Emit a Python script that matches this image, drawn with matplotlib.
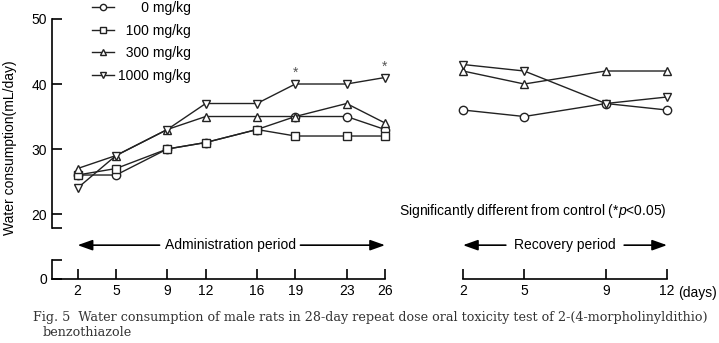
import matplotlib
matplotlib.use("Agg")
import matplotlib.pyplot as plt

plt.rcParams['font.family'] = ['Liberation Sans', 'DejaVu Sans']
plt.rcParams['mathtext.fontset'] = 'custom'
plt.rcParams['mathtext.it'] = 'Liberation Sans:italic'
plt.rcParams['mathtext.rm'] = 'Liberation Sans'

# data
admin_days = [2, 5, 9, 12, 16, 19, 23, 26]
admin_0 = [26, 26, 30, 31, 33, 35, 35, 33]
admin_100 = [26, 27, 30, 31, 33, 32, 32, 32]
admin_300 = [27, 29, 33, 35, 35, 35, 37, 34]
admin_1000 = [24, 29, 33, 37, 37, 40, 40, 41]
signif_days = [19, 26]

rec_days = [2, 5, 9, 12]
rec_0 = [36, 35, 37, 36]
rec_300 = [42, 40, 42, 42]
rec_1000 = [43, 42, 37, 38]

labels = ['      0 mg/kg', '  100 mg/kg', '  300 mg/kg', '1000 mg/kg']
markers = ['o', 's', '^', 'v']

W, H = 719, 343


def box(x0, y0, x1, y1):
    return [x0 / W, 1 - y1 / H, (x1 - x0) / W, (y1 - y0) / H]


fig = plt.figure(figsize=(W / 100, H / 100), dpi=100)
ax_a = fig.add_axes(box(52, 19, 385, 228))
ax_ab = fig.add_axes(box(52, 260, 385, 279))
ax_r = fig.add_axes(box(463, 19, 667, 228))
ax_rb = fig.add_axes(box(463, 260, 667, 279))

YLO, YHI = 17.85, 50
BOT_TOP = 2.92

line_kw = dict(color='#222222', lw=1.0, markersize=6, markerfacecolor='white',
               markeredgecolor='#222222', markeredgewidth=1.0, clip_on=False)

handles = []
for vals, m, lab in zip([admin_0, admin_100, admin_300, admin_1000], markers, labels):
    h, = ax_a.plot(admin_days, vals, marker=m, label=lab, **line_kw)
    handles.append(h)

for vals, m in zip([rec_0, rec_300, rec_1000], ['o', '^', 'v']):
    ax_r.plot(rec_days, vals, marker=m, **line_kw)

for d in signif_days:
    v = admin_1000[admin_days.index(d)]
    ax_a.annotate('*', (d, v), xytext=(0, 3), textcoords='offset points',
                  ha='center', va='bottom', fontsize=10, color='#555555')

# upper admin axes: y axis only
ax_a.set_xlim(0, 26)
ax_a.set_ylim(YLO, YHI)
for s in ['top', 'right', 'bottom']:
    ax_a.spines[s].set_visible(False)
ax_a.spines['left'].set_linewidth(1.2)
ax_a.set_xticks([])
ax_a.set_yticks([20, 30, 40, 50])
ax_a.set_yticks([YLO], minor=True)
ax_a.tick_params(axis='y', which='both', direction='in', length=7, width=1.2, labelsize=10)
ax_a.patch.set_visible(False)

# lower admin axes: x axis and the 0 part of y axis
ax_ab.set_xlim(0, 26)
ax_ab.set_ylim(0, BOT_TOP)
for s in ['top', 'right']:
    ax_ab.spines[s].set_visible(False)
ax_ab.spines['left'].set_linewidth(1.2)
ax_ab.spines['bottom'].set_linewidth(1.2)
ax_ab.set_xticks(admin_days)
ax_ab.set_yticks([0])
ax_ab.set_yticks([BOT_TOP], minor=True)
ax_ab.tick_params(axis='x', direction='in', length=7, width=1.2, labelsize=10)
ax_ab.tick_params(axis='y', which='both', direction='in', length=7, width=1.2, labelsize=10)
ax_ab.patch.set_visible(False)

# recovery axes
ax_r.set_xlim(2, 12)
ax_r.set_ylim(YLO, YHI)
ax_r.axis('off')

ax_rb.set_xlim(2, 12)
ax_rb.set_ylim(0, BOT_TOP)
for s in ['top', 'right', 'left']:
    ax_rb.spines[s].set_visible(False)
ax_rb.spines['bottom'].set_linewidth(1.2)
ax_rb.set_xticks(rec_days)
ax_rb.set_yticks([])
ax_rb.tick_params(axis='x', direction='in', length=7, width=1.2, labelsize=10)
ax_rb.patch.set_visible(False)
ax_rb.annotate('(days)', (12, 0), xytext=(8, -5), textcoords='offset points',
               ha='left', va='top', fontsize=10)

# period arrows
arrow_y = 5.2
akw = dict(arrowstyle='-|>,head_length=0.9,head_width=0.32', color='black', lw=1.2,
           shrinkA=0, shrinkB=0)
ax_ab.annotate('', xy=(2, arrow_y), xytext=(8.4, arrow_y), arrowprops=akw, annotation_clip=False)
ax_ab.annotate('', xy=(26, arrow_y), xytext=(19.4, arrow_y), arrowprops=akw, annotation_clip=False)
ax_ab.text(13.9, arrow_y, 'Administration period', ha='center', va='center', fontsize=10,
           clip_on=False)
ax_rb.annotate('', xy=(2, arrow_y), xytext=(4.1, arrow_y), arrowprops=akw, annotation_clip=False)
ax_rb.annotate('', xy=(12, arrow_y), xytext=(9.9, arrow_y), arrowprops=akw, annotation_clip=False)
ax_rb.text(7.0, arrow_y, 'Recovery period', ha='center', va='center', fontsize=10,
           clip_on=False)

ax_r.text(12, 20.45, r'Significantly different from control (*$\mathit{p}$<0.05)',
          ha='right', va='center', fontsize=10, clip_on=False)

fig.text(10 / W, 1 - 148 / H, 'Water consumption(mL/day)', rotation=90,
         ha='center', va='center', fontsize=10)

fig.legend(handles=handles, loc='upper left', bbox_to_anchor=(92 / W, 1 - 1 / H),
           frameon=False, fontsize=10, handlelength=1.55, handletextpad=0.35,
           labelspacing=0.62, borderpad=0, borderaxespad=0, markerscale=0.75)

cap_kw = dict(family=['DejaVu Serif'], fontsize=9.2, color='#333333', va='center')
fig.text(33 / W, 1 - 318 / H,
         'Fig. 5  Water consumption of male rats in 28-day repeat dose oral toxicity test of 2-(4-morpholinyldithio)',
         **cap_kw)
fig.text(43 / W, 1 - 333 / H, 'benzothiazole', **cap_kw)

fig.savefig('out.png', dpi=100)
